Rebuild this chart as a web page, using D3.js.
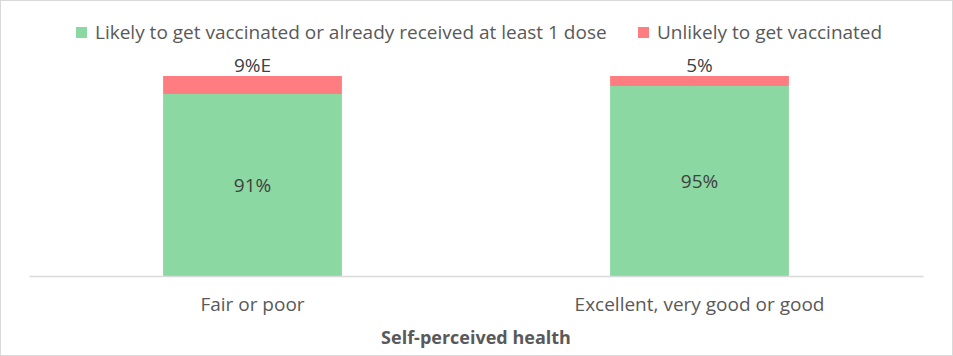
<!DOCTYPE html>
<html><head><meta charset="utf-8">
<script src="https://cdn.jsdelivr.net/npm/d3@7"></script>
<style>html,body{margin:0;padding:0;background:#fff;}svg{display:block;}</style>
</head><body>
<svg id="chart" width="953" height="356"></svg>
<script>
const categories = ["Fair or poor", "Excellent, very good or good"];
const likely = [91, 95];
const unlikely = [9, 5];
const unlikelyLabels = ["9%E", "5%"];
const likelyLabels = ["91%", "95%"];
const seriesNames = ["Likely to get vaccinated or already received at least 1 dose", "Unlikely to get vaccinated"];
const colors = ["#8cd8a3", "#ff7c80"];
const axisTitle = "Self-perceived health";

const svg = d3.select("#chart");
const W = 953, H = 356;
const font = "'Open Sans', sans-serif";
const fs = "19px";
const textColor = "#595959";

svg.append("rect").attr("x", 0.5).attr("y", 0.5).attr("width", W - 1).attr("height", H - 1)
  .attr("fill", "#fff").attr("stroke", "#d9d9d9");

const x = d3.scaleBand().domain(categories).range([29, 923]).paddingInner(0.6).paddingOuter(0.3);
const y = d3.scaleLinear().domain([0, 100]).range([276, 76]);

const data = categories.map((c, i) => ({cat: c, likely: likely[i], unlikely: unlikely[i]}));
const stack = d3.stack().keys(["likely", "unlikely"])(data);

svg.append("g").selectAll("g").data(stack).join("g")
  .attr("fill", (d, i) => colors[i])
  .selectAll("rect").data(d => d).join("rect")
  .attr("x", d => x(d.data.cat))
  .attr("width", x.bandwidth())
  .attr("y", d => y(d[1]))
  .attr("height", d => y(d[0]) - y(d[1]));

const axis = d3.axisBottom(x).tickSize(0).tickPadding(22);
const gx = svg.append("g").attr("transform", "translate(0,276)").call(axis);
gx.select(".domain").attr("stroke", "#d9d9d9").attr("stroke-width", 1.5);
gx.selectAll("text").attr("fill", textColor).style("font-family", font).style("font-size", fs);

svg.append("g").selectAll("text").data(data).join("text")
  .attr("x", d => x(d.cat) + x.bandwidth() / 2)
  .attr("y", (d) => (y(0) + y(d.likely)) / 2)
  .attr("dy", "0.35em")
  .attr("text-anchor", "middle")
  .attr("fill", "#404040")
  .style("font-family", font).style("font-size", fs)
  .text((d, i) => likelyLabels[i]);

svg.append("g").selectAll("text").data(data).join("text")
  .attr("x", d => x(d.cat) + x.bandwidth() / 2)
  .attr("y", d => y(d.likely + d.unlikely) - 4)
  .attr("text-anchor", "middle")
  .attr("fill", "#404040")
  .style("font-family", font).style("font-size", fs)
  .text((d, i) => unlikelyLabels[i]);

svg.append("text").attr("x", (29 + 923) / 2).attr("y", 344)
  .attr("text-anchor", "middle").attr("fill", textColor)
  .style("font-family", font).style("font-size", "18px").style("font-weight", "bold")
  .text(axisTitle);

const legendX = [76, 638];
const lg = svg.append("g").selectAll("g").data(seriesNames).join("g")
  .attr("transform", (d, i) => `translate(${legendX[i]},0)`);
lg.append("rect").attr("x", 0).attr("y", 27).attr("width", 11).attr("height", 11)
  .attr("fill", (d, i) => colors[i]);
lg.append("text").attr("x", 19).attr("y", 39).attr("fill", textColor)
  .style("font-family", font).style("font-size", fs)
  .text(d => d);
</script>
</body></html>
